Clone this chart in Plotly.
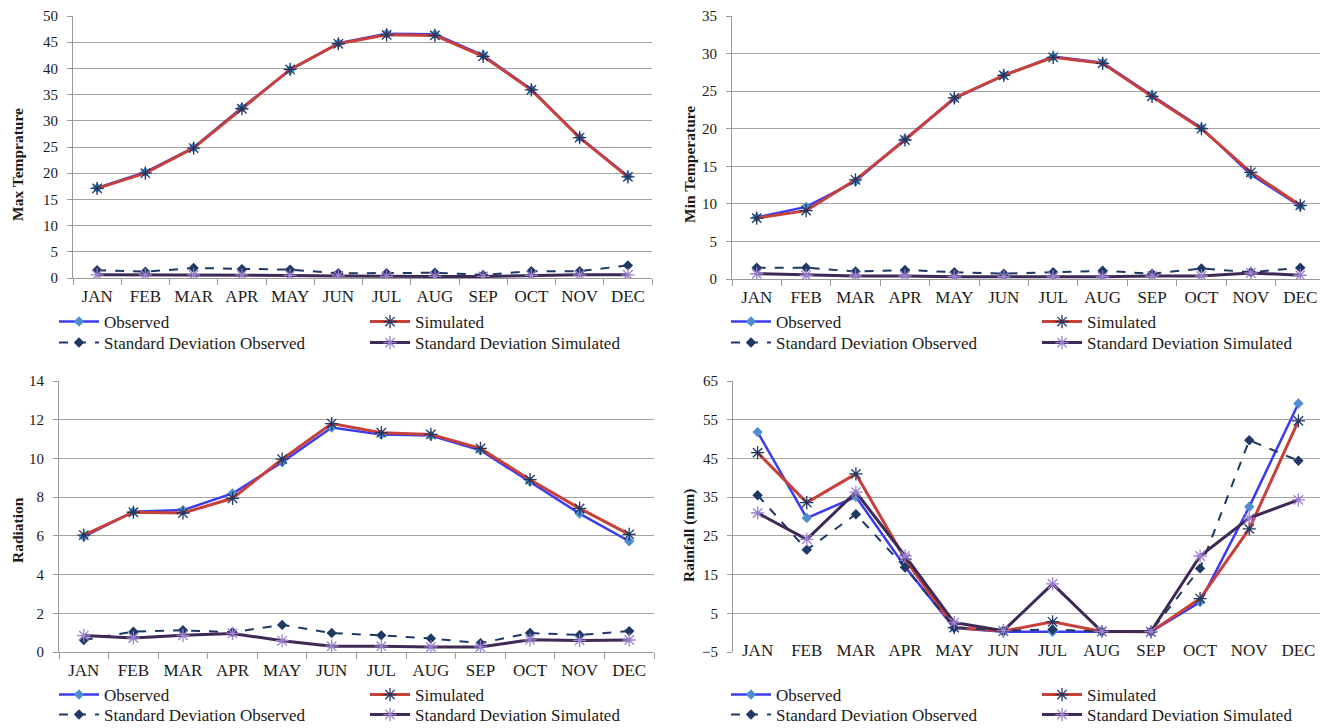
import plotly.graph_objects as go

months = ["JAN", "FEB", "MAR", "APR", "MAY", "JUN", "JUL", "AUG", "SEP", "OCT", "NOV", "DEC"]

max_obs = [17.2, 20.2, 24.9, 32.5, 39.7, 44.8, 46.6, 46.5, 42.5, 36.0, 26.8, 19.4]
max_sim = [17.1, 20.0, 24.8, 32.3, 39.8, 44.7, 46.4, 46.3, 42.3, 35.9, 26.8, 19.3]
max_sd_obs = [1.5, 1.2, 1.9, 1.7, 1.6, 0.9, 0.9, 1.0, 0.6, 1.3, 1.3, 2.4]
max_sd_sim = [0.6, 0.6, 0.6, 0.6, 0.5, 0.4, 0.3, 0.3, 0.3, 0.5, 0.6, 0.6]

min_obs = [8.2, 9.6, 13.0, 18.6, 24.0, 27.1, 29.6, 28.8, 24.4, 20.1, 13.9, 9.7]
min_sim = [8.1, 9.1, 13.2, 18.5, 24.1, 27.1, 29.5, 28.7, 24.3, 20.0, 14.2, 9.8]
min_sd_obs = [1.5, 1.5, 1.0, 1.2, 0.9, 0.7, 0.9, 1.1, 0.7, 1.4, 0.9, 1.5]
min_sd_sim = [0.7, 0.5, 0.4, 0.4, 0.3, 0.3, 0.3, 0.3, 0.4, 0.4, 0.8, 0.5]

rad_obs = [5.96, 7.25, 7.33, 8.19, 9.8, 11.6, 11.23, 11.18, 10.42, 8.8, 7.15, 5.72]
rad_sim = [6.04, 7.22, 7.18, 7.94, 9.96, 11.8, 11.33, 11.24, 10.52, 8.9, 7.42, 6.08]
rad_sd_obs = [0.62, 1.05, 1.12, 1.02, 1.4, 0.98, 0.86, 0.7, 0.46, 0.98, 0.88, 1.08]
rad_sd_sim = [0.85, 0.72, 0.86, 0.96, 0.58, 0.3, 0.3, 0.26, 0.26, 0.63, 0.6, 0.62]

rain_obs = [51.8, 29.6, 35.1, 17.0, 1.2, 0.2, 0.2, 0.2, 0.2, 7.9, 32.5, 59.2]
rain_sim = [46.5, 33.6, 41.0, 19.0, 1.3, 0.4, 2.8, 0.3, 0.2, 8.8, 26.8, 54.7]
rain_sd_obs = [35.5, 21.4, 30.6, 16.8, 1.4, 0.5, 0.8, 0.3, 0.3, 16.6, 49.7, 44.4]
rain_sd_sim = [30.9, 24.1, 36.3, 19.8, 2.6, 0.5, 12.6, 0.3, 0.3, 19.8, 29.6, 34.3]

y_titles = ["Max Temprature", "Min Temperature", "Radiation", "Rainfall (mm)"]
y_ranges = [[0, 50], [0, 35], [0, 14], [-5, 65]]
y_dticks = [5, 5, 2, 10]
series_names = ["Observed", "Simulated", "Standard Deviation Observed", "Standard Deviation Simulated"]

panels = [
    (max_obs, max_sim, max_sd_obs, max_sd_sim),
    (min_obs, min_sim, min_sd_obs, min_sd_sim),
    (rad_obs, rad_sim, rad_sd_obs, rad_sd_sim),
    (rain_obs, rain_sim, rain_sd_obs, rain_sd_sim),
]

# The page body keeps its default 8px margin, so the figure is sized to fill
# the rest of the 1328x728 window and all positions below are window pixels.
OFF = 8
W, H = 1328 - OFF, 728 - OFF


def px(sx):
    return (sx - OFF) / W


def py(sy):
    return 1 - (sy - OFF) / H


# plot-area boxes in window pixels: (left, right, top, bottom)
boxes = [(73, 652, 16, 278), (732, 1325, 16, 279), (59, 654, 381, 652), (733, 1323, 381, 652)]
legend_text_x = [105, 777, 105, 777]
legend_rows = [(322, 343), (322, 343), (695, 715), (695, 715)]
title_pos = [(17, 165), (689, 165), (17, 530), (689, 536)]

SERIF = "Liberation Serif, Times New Roman, DejaVu Serif, serif"
GRID = "#a3a3a3"
AXIS = "#9a9a9a"

styles = [
    dict(line=dict(color="#3b3bf0", width=2.5),
         marker=dict(symbol="diamond", size=8, color="#4f8fd0")),
    dict(line=dict(color="#c8403a", width=3),
         marker=dict(symbol="asterisk-open", size=11, color="#1f3864", line=dict(width=1.3, color="#1f3864"))),
    dict(line=dict(color="#1f3864", width=2, dash="dash"),
         marker=dict(symbol="diamond", size=8, color="#1f3864")),
    dict(line=dict(color="#3e2a55", width=3),
         marker=dict(symbol="asterisk-open", size=11, color="#9b7fd0", line=dict(width=1.3, color="#9b7fd0"))),
]

fig = go.Figure()
layout = dict(
    template="none",
    width=W, height=H,
    margin=dict(l=0, r=0, t=0, b=0, pad=0, autoexpand=False),
    paper_bgcolor="white", plot_bgcolor="white",
    font=dict(family=SERIF, color="#1a1a1a", size=15),
    annotations=[],
)

for p, (vals, box, ltx, rows, tp) in enumerate(zip(panels, boxes, legend_text_x, legend_rows, title_pos)):
    idx = "" if p == 0 else str(p + 1)
    l, r, t, b = box
    xd = [max(0.0, px(l)), min(1.0, px(r))]
    yd = [py(b), py(t)]
    leg_a = "legend" if p == 0 else "legend%d" % (2 * p + 1)
    leg_b = "legend%d" % (2 * p + 2)
    for s, (name, v) in enumerate(zip(series_names, vals)):
        fig.add_trace(go.Scatter(
            x=months, y=v, name=name, mode="lines+markers",
            xaxis="x" + idx, yaxis="y" + idx,
            legend=leg_a if s < 2 else leg_b,
            **styles[s]))
    for leg, ry in ((leg_a, rows[0]), (leg_b, rows[1])):
        layout[leg] = dict(
            orientation="h", x=px(ltx - 51), xanchor="left", y=py(ry), yanchor="middle",
            font=dict(family=SERIF, size=17, color="#1a1a1a"),
            bgcolor="rgba(0,0,0,0)", borderwidth=0, itemwidth=40, entrywidth=256,
            entrywidthmode="pixels",
            tracegroupgap=0, itemclick=False, itemdoubleclick=False)
    is_rain = p == 3
    layout["xaxis" + idx] = dict(
        domain=xd, anchor="y" + idx, type="category", range=[-0.5, 11.5],
        showline=not is_rain, linecolor=AXIS, linewidth=1, mirror=False,
        ticks="" if is_rain else "outside", tickson="boundaries", ticklen=6, tickcolor=AXIS,
        tickangle=0, ticklabelstandoff=-14 if is_rain else 3, automargin=False,
        ticklabeloverflow="allow",
        tickfont=dict(family=SERIF, size=17, color="#1a1a1a"),
        showgrid=False, zeroline=False, fixedrange=True)
    layout["yaxis" + idx] = dict(
        domain=yd, anchor="x" + idx, range=y_ranges[p], dtick=y_dticks[p],
        tick0=y_ranges[p][0], automargin=False, ticklabeloverflow="allow",
        showline=True, linecolor=AXIS, linewidth=1, mirror=False,
        ticks="outside", ticklen=5, tickcolor=AXIS, ticklabelstandoff=6,
        tickfont=dict(family=SERIF, size=15, color="#1a1a1a"),
        showgrid=True, gridcolor=GRID, gridwidth=1, zeroline=False, fixedrange=True)
    layout["annotations"].append(dict(
        text="<b>%s</b>" % y_titles[p], textangle=-90, showarrow=False,
        xref="paper", yref="paper", x=px(tp[0]), y=py(tp[1]),
        xanchor="center", yanchor="middle",
        font=dict(family=SERIF, size=15.5, color="#1a1a1a")))

# rainfall panel: horizontal axis line with ticks drawn through y = 0
y0, y1 = layout["yaxis4"]["domain"]
lo, hi = y_ranges[3]
zero_pos = y0 + (0 - lo) / (hi - lo) * (y1 - y0)
layout["xaxis5"] = dict(
    overlaying="x4", anchor="free", position=zero_pos, type="linear",
    range=[-0.5, 11.5], tick0=-0.5, dtick=1, showticklabels=False, automargin=False,
    showline=True, linecolor=AXIS, linewidth=1, ticks="outside", ticklen=6, tickcolor=AXIS,
    showgrid=False, zeroline=False, fixedrange=True)

fig.update_layout(**layout)
fig.write_html("out.html")
